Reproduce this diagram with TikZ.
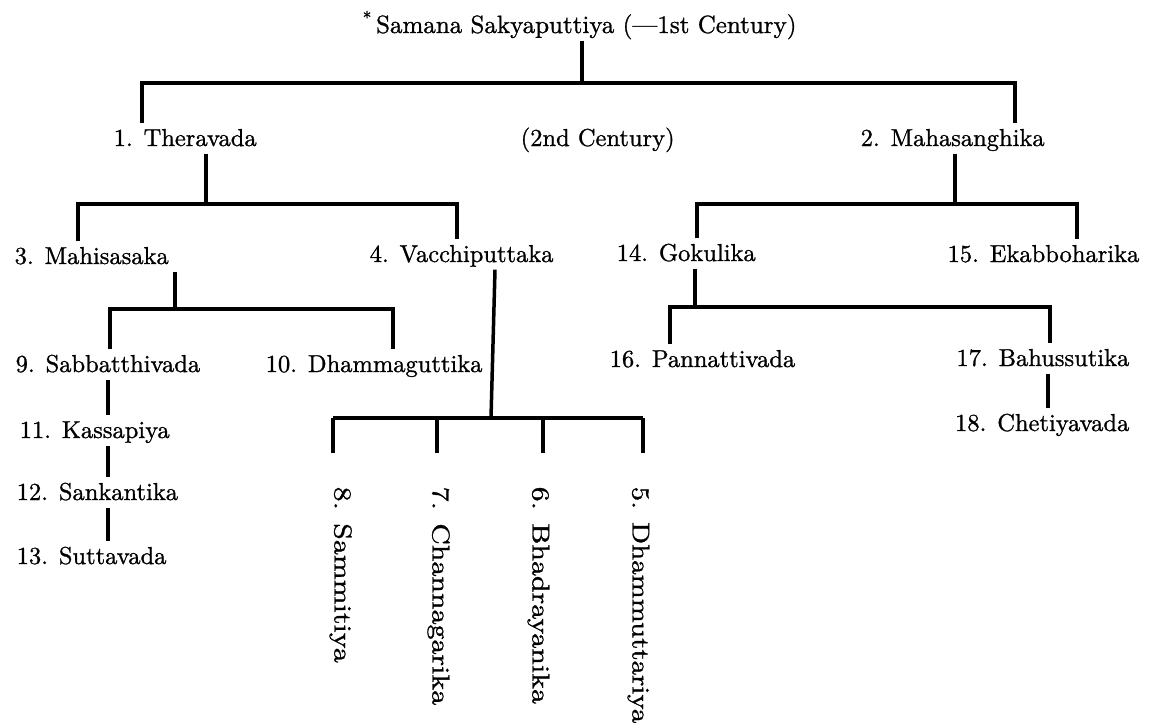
\documentclass[tikz,border=0pt]{standalone}
\usepackage{fontspec}
\setmainfont{lmroman10-regular}[Extension=.otf, FakeBold=1]
\usepackage{graphicx}
\usetikzlibrary{positioning}

\begin{document}
\begin{tikzpicture}[
  x=1pt, y=-1pt,
  every node/.style={font=\fontsize{24.5}{30}\selectfont, inner sep=2.5pt, text height=20pt, text depth=5pt},
  school/.style={anchor=base west},
  schoolR/.style={anchor=base east},
  vschool/.style={rotate=-90, anchor=west},
  tie/.style={line width=3.5pt}
]
  \useasboundingbox (0,0) rectangle (1151,724);

  % Nodes
  \node (root) [school, font=\fontsize{25}{30}\selectfont] at (360,33) {\textsuperscript{*}\,Samana Sakyaputtiya (---1st Century)};
  \node (thera) [school] at (111,146) {1. Theravada};
  \node (century) [school] at (518,146) {(2nd Century)};
  \node (mahas) [school] at (858,146) {2. Mahasanghika};

  \node (mahi) [school] at (12,264) {3. Mahisasaka};
  \node (vacc) [school] at (367,262) {4. Vacchiputtaka};
  \node (goku) [school] at (614,261) {14. Gokulika};
  \node (ekab) [schoolR] at (1142,262) {15. Ekabboharika};

  \node (sabba) [school] at (13,372) {9. Sabbatthivada};
  \node (dhag) [school] at (263,372) {10. Dhammaguttika};
  \node (pann) [school] at (607,367) {16. Pannattivada};
  \node (bahu) [schoolR] at (1132,366) {17. Bahussutika};

  \node (kass) [school] at (17,438) {11. Kassapiya};
  \node (sank) [school] at (14,500) {12. Sankantika};
  \node (sutt) [school] at (14,564) {13. Suttavada};
  \node (chet) [schoolR] at (1132,431) {18. Chetiyavada};

  \node (sammi) [vschool] at (342,484) {\scalebox{1.22}[1]{8. Sammitiya}};
  \node (chann) [vschool] at (440,484) {\scalebox{1.22}[1]{7. Channagarika}};
  \node (bhad) [vschool] at (540,484) {\scalebox{1.22}[1]{6. Bhadrayanika}};
  \node (dhut) [vschool] at (640,484) {\scalebox{1.18}[1]{5. Dhammuttariya}};

  % Junctions
  \coordinate (jRoot) at (582,83);
  \coordinate (jThera) at (142,83);
  \coordinate (jMahas) at (1015,83);
  \coordinate (jT2) at (206,204);
  \coordinate (jMahi) at (78,204);
  \coordinate (jVacc) at (457,204);
  \coordinate (jM2) at (955,204);
  \coordinate (jGoku) at (697,204);
  \coordinate (jEkab) at (1077,204);
  \coordinate (jMahi2) at (175,309);
  \coordinate (jSabba) at (110,309);
  \coordinate (jDhag) at (393,309);
  \coordinate (jV2) at (491,418);
  \coordinate (jSammi) at (333,418);
  \coordinate (jChann) at (437,418);
  \coordinate (jBhad) at (543,418);
  \coordinate (jDhut) at (643,418);
  \coordinate (jG2) at (695,307);
  \coordinate (jPann) at (670,307);
  \coordinate (jBahu) at (1050,307);
  \coordinate (cL) at (108,0);
  \coordinate (cR) at (1048,0);

  % Paths
  \draw [tie] (root.south -| jRoot) -- (jRoot);
  \draw [tie] (thera.north -| jThera) -- (jThera) -- (jMahas) -- (mahas.north -| jMahas);

  \draw [tie] (thera.south -| jT2) -- (jT2);
  \draw [tie] (mahi.north -| jMahi) -- (jMahi) -- (jVacc) -- (vacc.north -| jVacc);
  \draw [tie] (mahas.south -| jM2) -- (jM2);
  \draw [tie] (goku.north -| jGoku) -- (jGoku) -- (jEkab) -- (ekab.north -| jEkab);

  \draw [tie] (mahi.south -| jMahi2) -- (jMahi2);
  \draw [tie] (sabba.north -| jSabba) -- (jSabba) -- (jDhag) -- (dhag.north -| jDhag);
  \draw [tie] (goku.south -| jG2) -- (jG2);
  \draw [tie] (pann.north -| jPann) -- (jPann) -- (jBahu) -- (bahu.north -| jBahu);

  \draw [tie] ([xshift=4pt]vacc.south -| jV2) -- (jV2);
  \draw [tie] (jSammi) -- (jDhut);
  \draw [tie, shorten >=31pt] (jSammi) -- (jSammi |- sammi.west);
  \draw [tie, shorten >=31pt] (jChann) -- (jChann |- chann.west);
  \draw [tie, shorten >=31pt] (jBhad) -- (jBhad |- bhad.west);
  \draw [tie, shorten >=31pt] (jDhut) -- (jDhut |- dhut.west);

  \draw [tie] (sabba.south -| cL) -- (kass.north -| cL);
  \draw [tie] (kass.south -| cL) -- (sank.north -| cL);
  \draw [tie] (sank.south -| cL) -- (sutt.north -| cL);
  \draw [tie] (bahu.south -| cR) -- (chet.north -| cR);
\end{tikzpicture}
\end{document}
